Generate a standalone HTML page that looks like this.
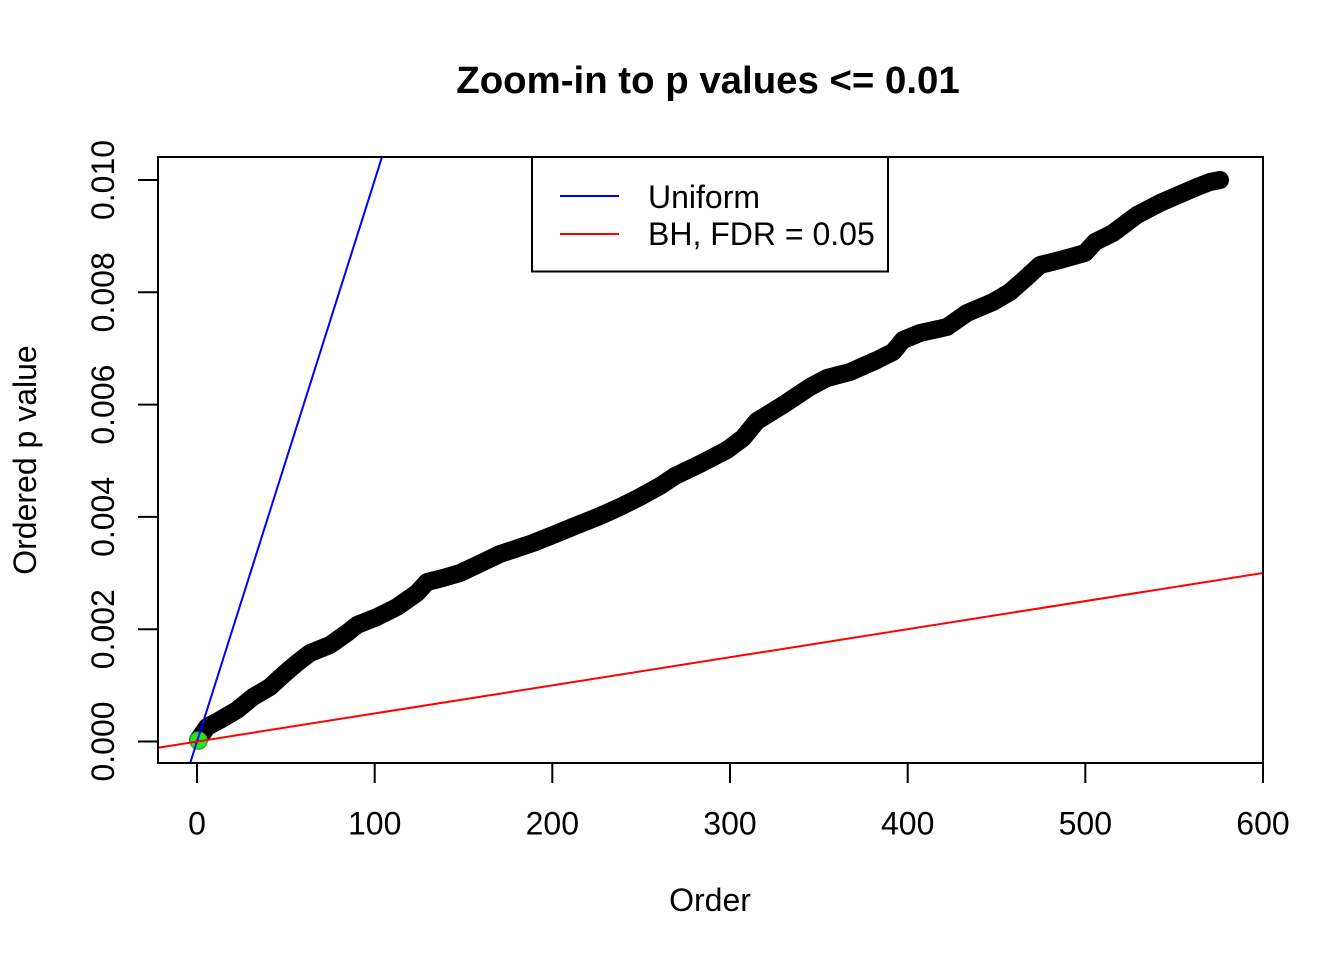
<!DOCTYPE html>
<html>
<head>
<meta charset="utf-8">
<style>
html,body{margin:0;padding:0;background:#fff;}
svg{display:block;}
text{font-family:"Liberation Sans", Arial, sans-serif;fill:#000;}
</style>
</head>
<body>
<svg width="1344" height="960" viewBox="0 0 1344 960" xmlns="http://www.w3.org/2000/svg">
<rect x="0" y="0" width="1344" height="960" fill="#fff"/>
<defs>
<clipPath id="plotclip"><rect x="158" y="157" width="1105" height="606"/></clipPath>
</defs>

<!-- Title -->
<text x="708" y="93" font-size="38.4" font-weight="bold" text-anchor="middle">Zoom-in to p values &lt;= 0.01</text>

<!-- Data points (thick band) -->
<g clip-path="url(#plotclip)">
<polyline fill="none" stroke="#000" stroke-width="18" stroke-linejoin="round" stroke-linecap="round"
points="198,740 207,727 220,720 237,710 253,697 270,687 283,675 297,663 310,653 330,645 347,633 357,625 377,617 397,607 417,593 427,582 443,578 460,573 477,565 500,554 533,543 553,535 575,526 600,516 620,507 640,497 660,486 675,476 700,464 727,450 743,438 757,421 783,405 810,387 827,378 850,372 877,360 893,352 903,340 920,333 947,327 967,313 993,302 1010,292 1027,277 1040,265 1060,260 1085,253 1095,242 1113,233 1137,215 1160,203 1183,193 1197,187 1210,182 1220,180"/>
<!-- green highlighted point -->
<circle cx="198.5" cy="740.5" r="8.8" fill="#22e622" stroke="#1a9a1a" stroke-width="1"/>
<!-- Uniform line -->
<line x1="190.2" y1="763" x2="382" y2="157" stroke="#0000ff" stroke-width="2"/>
<!-- BH line -->
<line x1="158" y1="747.7" x2="1263" y2="573" stroke="#ff0000" stroke-width="2"/>
</g>

<!-- Plot box -->
<rect x="158" y="157" width="1105" height="606" fill="none" stroke="#000" stroke-width="2"/>

<!-- X axis ticks -->
<g stroke="#000" stroke-width="2">
<line x1="197" y1="763" x2="1263" y2="763"/>
<line x1="197" y1="763" x2="197" y2="783"/>
<line x1="374.7" y1="763" x2="374.7" y2="783"/>
<line x1="552.3" y1="763" x2="552.3" y2="783"/>
<line x1="730" y1="763" x2="730" y2="783"/>
<line x1="907.7" y1="763" x2="907.7" y2="783"/>
<line x1="1085.3" y1="763" x2="1085.3" y2="783"/>
<line x1="1263" y1="763" x2="1263" y2="783"/>
</g>
<g font-size="32" text-anchor="middle">
<text x="197" y="834.5">0</text>
<text x="374.7" y="834.5">100</text>
<text x="552.3" y="834.5">200</text>
<text x="730" y="834.5">300</text>
<text x="907.7" y="834.5">400</text>
<text x="1085.3" y="834.5">500</text>
<text x="1263" y="834.5">600</text>
</g>

<!-- Y axis ticks -->
<g stroke="#000" stroke-width="2">
<line x1="158" y1="180" x2="158" y2="741.5"/>
<line x1="138" y1="741.5" x2="158" y2="741.5"/>
<line x1="138" y1="629.2" x2="158" y2="629.2"/>
<line x1="138" y1="516.9" x2="158" y2="516.9"/>
<line x1="138" y1="404.6" x2="158" y2="404.6"/>
<line x1="138" y1="292.3" x2="158" y2="292.3"/>
<line x1="138" y1="180" x2="158" y2="180"/>
</g>
<g font-size="32" text-anchor="middle">
<text transform="translate(114,741.5) rotate(-90)">0.000</text>
<text transform="translate(114,629.2) rotate(-90)">0.002</text>
<text transform="translate(114,516.9) rotate(-90)">0.004</text>
<text transform="translate(114,404.6) rotate(-90)">0.006</text>
<text transform="translate(114,292.3) rotate(-90)">0.008</text>
<text transform="translate(114,180) rotate(-90)">0.010</text>
</g>

<!-- Axis labels -->
<text x="710" y="911" font-size="32" text-anchor="middle">Order</text>
<text transform="translate(36,460) rotate(-90)" font-size="32" text-anchor="middle">Ordered p value</text>

<!-- Legend -->
<rect x="532" y="157" width="356" height="114.5" fill="#fff" stroke="#000" stroke-width="2"/>
<line x1="560" y1="196" x2="619" y2="196" stroke="#0000ff" stroke-width="2"/>
<line x1="560" y1="234" x2="619" y2="234" stroke="#ff0000" stroke-width="2"/>
<text x="648" y="208" font-size="32">Uniform</text>
<text x="648" y="245" font-size="32">BH, FDR = 0.05</text>
</svg>
</body>
</html>
